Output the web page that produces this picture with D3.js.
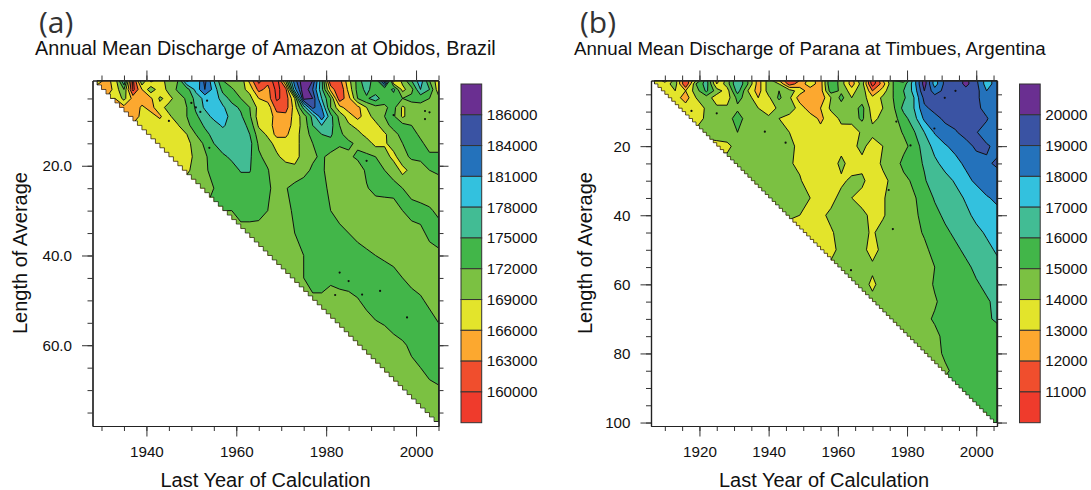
<!DOCTYPE html>
<html>
<head>
<meta charset="utf-8">
<script src="https://cdn.jsdelivr.net/npm/d3@7"></script>
<style>
    body { margin: 0; background: #fff; }
    text { font-family: "Liberation Sans", Arial, sans-serif; fill: #111; }
</style>
</head>
<body>
<div id="chart"></div>
<script>
// band colours, lowest band first
const bandColors = ["#ef3b2c", "#f04e2d", "#fca82f", "#e3e42b", "#7bc142", "#42b649", "#42bc94", "#33c1de", "#2472bb", "#3a53a3", "#6a2f91"]

// (a) Amazon at Obidos, values in thousands
const titleA = "Annual Mean Discharge of Amazon at Obidos, Brazil"
const levelsA = [160, 163, 166, 169, 172, 175, 178, 181, 184, 186]
const yearsA = d3.range(1929, 2006, 2)
const lengthsA = [1, 3, 5, 7, 9, 11, 13, 15, 18, 21, 25, 30, 35, 40, 45, 50, 55, 60, 65, 70, 75, 77]
// each row only lists the years that exist for that length, newest year last
const rowsA = [
    [168,165,167,178,159,172,165,168,170,172,182,178,185,178,172,170,171,165,159,162,158,170,183,188,186,176,160,162,168,173,178,172,188,165,170,175,180,172,167],
    [164,167,172,159,166,171,167,170,172.5,173.5,179,184,180,174,172.5,170,168,162,164,159,162,180,188,184,176,165,160,167,173,176,173,172,176,168,171,178,175,167],
    [166,170,165,164.5,165.5,169.5,168,170.5,172.5,176,179,180,176.5,174,172,170,166,164.5,159.5,161,169,187,186,178,172,161,165,172,174.5,176.5,173,173,172,173,173,172,170],
    [165,164,166.5,165,168,170,170.5,172,175.5,178.5,180.5,178.5,176,174.5,172,168,168,161.5,161.5,167.5,176,185,181,172,167,164.5,165,169,171,171.5,173,168.5,170.5,171,171,171],
    [164,167,167,165.5,168.5,170.5,172,174.5,176.5,179,180,176.5,175.5,172.5,167.5,168,164.5,164,167,170.5,176,183,176,171,167.5,165,167.5,170.5,172,172.5,168.5,170.5,171,171,171],
    [166.5,167,167.5,167.5,168.8,171.5,173,175.5,176.5,178.5,176.5,176.5,174,168.5,167,165,164,167.5,170,175,178,176,172,169.5,168,167.5,168,171,173,173,172,171,171,172],
    [167,167,167,167.5,169,172,174,176,176.5,176.5,176.5,175,170.5,168.5,165,165.5,167.5,170.5,173,175,175.5,172.5,171,170,168,167,168.5,171,173,173,171.5,170.5,170.5],
    [167,167,167,168,170.5,172.5,175,176.5,176.5,176.5,176,171.5,170,168,167,167.5,170.5,172,173.5,174,172.5,172.5,171.5,170.5,168,168.5,170.5,172,172.5,172.5,171,171],
    [167,167.5,170,171.5,173.5,174.5,175.5,176.5,175.5,172.5,171,169.5,168,168,170,171.5,172.5,171,170.5,171.5,172.5,172.5,172,170.5,168,171,172.5,172.5,172.5,172.5],
    [168.5,170,171.5,173,173.5,174,175.2,175.2,172.8,172.2,170,170.5,169.8,171,172.5,172.6,170.5,170,170,170.5,172.5,172.6,172,171,168,170,171,172,172.5],
    [170.5,172,173,173.5,173.5,173.5,173.5,172.5,171,171.8,173,173.5,173.5,172.7,171.5,171,171,171,171.8,172.8,173,172.8,172,171,170.5,170.5,170.5],
    [172,173,173,172.8,172,171,171.5,172.3,173,173,172.6,172,171,170.5,170.5,170.5,170.5,170.5,171,172,173,172.8,172.3,171.5],
    [171,171,171,171,171.5,172,173,173,173,173,172.7,172,171.3,170.8,170.5,170.5,170.5,170.5,170.8,171.5,172.5,173],
    [171,171,171.5,172,173,173,173.5,173.5,173.5,173,172.5,172,171.5,171,170.8,170.8,171,171.2,171.5],
    [171,172,173,173,172.5,173,173.5,173.5,173.5,173.5,173.5,173,172,171,171,171,171],
    [171.5,171,171,171,171.8,172.8,173.5,173.5,173.5,173.5,173.2,172.3,171.5,171],
    [170.5,170.5,170.8,171,171.8,172.2,173,173.5,173.5,173.3,172.8,172],
    [170.5,170.5,170.5,171,171.6,172.5,173.5,173.5,173.5],
    [170.5,170.5,171,171.5,172,172.8,173],
    [170.5,171,171.3,171.7],
    [170.5,170.5],
    [170.5]
]
const specksA = [[1945,10],[1950,6],[1951,7],[1952,8],[1954,16],[1953.5,5.5],[1983,43.8],[1982,48.8],[1988,48.7],[1992,47.9],[1998,53.8],[1985,45.7],[1989,18.9],[1995,8.7],[2002,9.6],[2002,7.8],[2003,8.1]]

// (b) Parana at Timbues, values in thousands
const titleB = "Annual Mean Discharge of Parana at Timbues, Argentina"
const levelsB = [11, 12, 13, 14, 15, 16, 17, 18, 19, 20]
const yearsB = d3.range(1907, 2007, 3)
const lengthsB = [1, 2, 4, 6, 9, 12, 16, 20, 25, 30, 35, 40, 45, 50, 55, 60, 65, 70, 75, 80, 85, 90, 95, 100]
const rowsB = [
    [14,12.5,14.5,11,14,16.5,12.5,14.5,17,15,12.5,14.5,13,11,12,13.5,12.5,16,14.5,12.5,15,10,13,15,14.5,17.5,20.5,17.5,19.3,19.3,20.3,19.2,17.5,18.5],
    [13.5,14.5,11,15,16.5,13,14.5,17,15,12.5,14.5,14,11.5,12.5,13.5,12.5,16,14.5,12.5,14.5,10.5,12.5,15,15.5,17.5,20.5,17.5,19.3,19.3,20.3,19.3,17.5,18.5],
    [13.5,14,13,14.5,16.2,14.5,13.5,16.5,14,12.5,14.5,15,14.5,13.5,12.5,12.5,15.5,14.8,13.5,14.8,12,13.5,15,16,17.3,20,18.5,19.3,19.5,19.6,19.4,18,18.5],
    [13.5,12.5,14,14.5,13.5,13.5,15.3,14.6,13,13.8,15.2,14.2,12.5,12.5,12.3,14,15.3,14,14.5,13.3,14.2,15,15.8,17,19.3,19.4,19.3,19.5,19.5,19.2,18.5,18.5],
    [13.5,13.2,14.2,14.2,14.2,14.8,14.5,14,13.5,14.2,14.7,13.5,12.5,13,14.2,14.5,14.5,15.3,13.5,14,14.8,16.3,17,18.8,19.3,19.4,19.4,19.5,19.3,18.6,18.5],
    [13.5,14.2,14.5,14.5,15.5,14.5,14.3,14.2,14,13.5,13.5,13.5,12.8,13.5,14.2,14.5,15.2,13.8,14.2,14.6,15.6,16.6,18.2,18.7,19.2,19.4,19.2,19.2,19.1,18.3],
    [14.2,14.3,14.5,15,14.5,14.3,14.2,14.1,14,13.4,13.3,13.3,13.4,13.7,13.3,14.2,14.3,14.5,14.5,15.1,15.9,17,18.1,18.6,18.9,19.4,19.05,18.6,18.4],
    [13.8,14.3,14.5,14.3,14.2,14.2,14.2,13.8,13.3,13.3,13.5,13.6,13.7,14.3,13.5,14,14.3,14.7,15.4,16.5,17.3,17.9,18.3,18.6,19.2,19.1,18.8],
    [14.3,14.4,14.3,14.2,14.2,14.1,13.8,13.3,13.3,13.4,14.3,13.5,13.7,13.4,14.2,14.4,15.3,15.6,16.1,16.8,17.3,17.7,18.2,18.5,18.9,19.1],
    [14.4,14.3,14.3,14.2,14.1,13.5,13.5,13.7,13.8,14.2,14.2,13.5,13.7,14.3,14.7,15.2,15.9,16.5,16.7,17.1,17.7,18.2,18.6,18.7],
    [14.3,14.2,14.1,14,13.5,13.7,14.3,14,13.7,13.4,13.9,14.4,14.6,14.9,15.4,16.1,16.4,16.7,17.1,17.4,17.9,18.2],
    [14.2,14,13.4,13.8,14.2,14.3,14,14.2,13.8,13.9,14.4,14.6,14.8,15.3,15.7,16.2,16.6,16.8,17.2,17.5,17.7],
    [13.4,13.4,13.9,14.3,14.3,14.2,13.9,14.3,14.4,14.5,14.7,15.1,15.4,15.8,16.2,16.5,16.8,17.1,17.4],
    [13.7,14.3,14.3,14.3,13.6,14.3,14.4,14.4,14.6,14.8,15.3,15.6,15.8,16.2,16.6,16.8,17.1],
    [14.2,14.3,14.4,14.2,14.3,14.4,14.4,14.5,14.7,15,15.5,15.7,15.8,16.2,16.4,16.8],
    [14.4,13.8,14.4,14.5,14.5,14.5,14.6,15.1,15.5,15.6,15.7,15.9,16.2,16.5],
    [14.3,14.5,14.5,14.6,14.7,14.9,15.3,15.5,15.6,15.7,15.9,16.2],
    [14.5,14.5,14.6,14.8,15.1,15.4,15.6,15.7,15.8,15.9,16.1],
    [14.5,14.6,14.8,15.2,15.4,15.5,15.5,15.6,15.7],
    [14.6,15.2,15.4,15.5,15.5,15.6,15.6],
    [14.8,15.3,15.4,15.5,15.5,15.5],
    [15.4,15.4,15.4,15.4],
    [15.4,15.4],
    [15.4]
]
const specksB = [[1917.7,9.8],[1938.9,15.8],[1925,10.5],[1944.9,19],[1976.9,12.9],[1981,19.8],[1987.9,14.9],[1990.9,6],[1994,4],[1974.7,32.7],[1975.9,44],[1963.8,55.9]]

const svg = d3.select("#chart").append("svg")
    .attr("width", 1091)
    .attr("height", 490)

function drawPanel(p) {
    const x = d3.scaleLinear().domain(p.xDomain).range([p.left, p.left + 346])
    const y = d3.scaleLinear().domain(p.yDomain).range([80.5, 426])

    // rows are shorter than the year list, stretch them under the white staircase
    const grid = p.rows.flatMap((r, i) => {
        const start = p.years.findIndex(yr => yr >= p.firstYear + p.lengths[i])
        if (r.length !== p.years.length - start) throw new Error(`${p.name} row ${i}: ${r.length} != ${p.years.length - start}`)
        return Array(start).fill(r[0]).concat(r)
    })

    // contour output is in cell indexes, turn it back into years and lengths
    const yearAt = d3.scaleLinear().domain(p.years.map((_, i) => i + 0.5)).range(p.years).clamp(true)
    const lengthAt = d3.scaleLinear().domain(p.lengths.map((_, i) => i + 0.5)).range(p.lengths).clamp(true)
    const path = d3.geoPath(d3.geoTransform({
        point(a, b) { this.stream.point(x(yearAt(a)), y(lengthAt(b))) }
    }))

    const contours = d3.contours()
        .size([p.years.length, p.lengths.length])
        .thresholds(p.levels)(grid)

    // staircase edge of the triangle where the average exists
    const stair = [[p.xDomain[1], 1], [p.firstYear + 1, 1]]
    for (let n = 1; n < p.maxLength; n++) {
        stair.push([p.firstYear + n, n + 1], [p.firstYear + n + 1, n + 1])
    }
    stair.push([p.xDomain[1], p.maxLength])
    const stairLine = d3.line().x(d => x(d[0])).y(d => y(d[1]))
    const stairPath = stairLine(stair) + "Z"

    svg.append("clipPath").attr("id", "clip" + p.name).append("path").attr("d", stairPath)

    const g = svg.append("g").attr("clip-path", `url(#clip${p.name})`)
    g.append("path")
        .attr("d", stairPath)
        .attr("fill", bandColors[0])
    g.selectAll("path.band")
        .data(contours)
        .join("path")
        .attr("class", "band")
        .attr("d", path)
        .attr("fill", (d, i) => bandColors[i + 1])
        .attr("stroke", "#111")
        .attr("stroke-width", 1)
    g.selectAll("circle")
        .data(p.specks)
        .join("circle")
        .attr("cx", d => x(d[0]))
        .attr("cy", d => y(d[1]))
        .attr("r", 1.1)
        .attr("fill", "#111")

    svg.append("path")
        .attr("d", stairPath)
        .attr("fill", "none")
        .attr("stroke", "#222")
        .attr("stroke-width", 0.7)

    // axes on all four sides, ticks pointing out
    const xMinor = d3.range(p.xDomain[0] + (5 - p.xDomain[0] % 5) % 5, p.xDomain[1] + 1, 5)
    const yMinor = d3.range(5, p.yDomain[1], 5)
    const axis = (maker, scale, values, size, format, tx, ty) => {
        const a = svg.append("g")
            .attr("transform", `translate(${tx},${ty})`)
            .call(maker(scale).tickValues(values).tickSize(size).tickSizeOuter(0).tickPadding(10).tickFormat(format))
        a.selectAll("line").attr("stroke", "#333")
        a.select(".domain").attr("stroke", "#222").attr("stroke-width", 1.2)
        a.selectAll("text").attr("font-size", 15.2).attr("font-family", null)
    }
    const none = () => ""
    axis(d3.axisBottom, x, xMinor, 5, none, 0, 426)
    axis(d3.axisBottom, x, p.xMajor, 10.5, d3.format("d"), 0, 426)
    axis(d3.axisTop, x, xMinor, 5, none, 0, 80.5)
    axis(d3.axisTop, x, p.xMajor, 10, none, 0, 80.5)
    axis(d3.axisLeft, y, yMinor, 5, none, p.left, 0)
    axis(d3.axisLeft, y, p.yMajor, 10.5, p.yFormat, p.left, 0)
    axis(d3.axisRight, y, yMinor, 5, none, p.left + 346, 0)
    axis(d3.axisRight, y, p.yMajor, 10, none, p.left + 346, 0)

    // colour bar
    const reversed = bandColors.slice().reverse()
    const bar = d3.scaleBand().domain(reversed).range([84, 422.7])
    svg.append("g").selectAll("rect")
        .data(reversed)
        .join("rect")
        .attr("x", p.barLeft)
        .attr("y", d => bar(d))
        .attr("width", 20.7)
        .attr("height", bar.bandwidth())
        .attr("fill", d => d)
        .attr("stroke", "#333")
        .attr("stroke-width", 1)
    const barLabels = d3.scalePoint()
        .domain(p.levels.slice().reverse())
        .range([84 + bar.bandwidth(), 422.7 - bar.bandwidth()])
    svg.append("g")
        .attr("transform", `translate(${p.barLeft + 20.7},0)`)
        .call(d3.axisRight(barLabels).tickSize(0).tickPadding(5).tickFormat(d => d * 1000))
        .call(a => a.select(".domain").remove())
        .selectAll("text")
        .attr("font-size", 15.2)
        .attr("font-family", null)

    // titles and axis names
    svg.append("text")
        .attr("x", p.titleX)
        .attr("y", 55)
        .attr("font-size", p.titleSize)
        .text(p.title)
    svg.append("text")
        .attr("x", p.tagX)
        .attr("y", 33)
        .attr("font-size", 30)
        .style("font-family", "'Open Sans', sans-serif")
        .style("fill", "#333")
        .text(p.tag)
    svg.append("text")
        .attr("x", p.left + 173)
        .attr("y", 487)
        .attr("text-anchor", "middle")
        .attr("font-size", 20)
        .text("Last Year of Calculation")
    svg.append("text")
        .attr("transform", `translate(${p.labelX},253)rotate(-90)`)
        .attr("text-anchor", "middle")
        .attr("font-size", 20)
        .text("Length of Average")
}

drawPanel({
    name: "A", tag: "(a)", title: titleA, titleX: 35, tagX: 39, titleSize: 19.8, labelX: 26.5,
    left: 92.5, barLeft: 461,
    xDomain: [1928, 2005], yDomain: [1, 78], firstYear: 1928, maxLength: 77,
    xMajor: [1940, 1960, 1980, 2000], yMajor: [20, 40, 60], yFormat: d3.format(".1f"),
    years: yearsA, lengths: lengthsA, rows: rowsA, levels: levelsA, specks: specksA
})
drawPanel({
    name: "B", tag: "(b)", title: titleB, titleX: 574, tagX: 580, titleSize: 18.7, labelX: 592,
    left: 651, barLeft: 1019.5,
    xDomain: [1906, 2006], yDomain: [1, 101], firstYear: 1906, maxLength: 100,
    xMajor: [1920, 1940, 1960, 1980, 2000], yMajor: [20, 40, 60, 80, 100], yFormat: d3.format("d"),
    years: yearsB, lengths: lengthsB, rows: rowsB, levels: levelsB, specks: specksB
})
</script>
</body>
</html>
